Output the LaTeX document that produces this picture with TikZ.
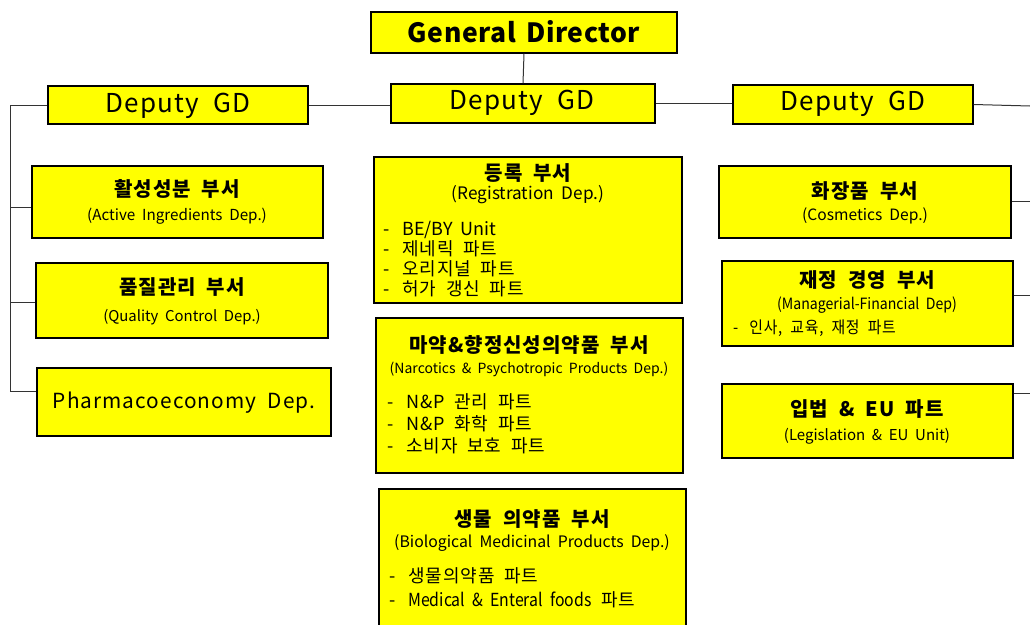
\documentclass[tikz,border=0pt]{standalone}
\usepackage{graphicx}
\usepackage{fontspec}
\setmainfont{Noto Sans CJK KR}[LetterSpace=5, WordSpace=2]
\newfontfamily\subfont{Noto Sans CJK KR}[WordSpace=2.2]
\newfontfamily\latfont{Noto Sans CJK KR}[WordSpace=2]
\newfontfamily\gdfont{Noto Sans CJK KR}[LetterSpace=2, WordSpace=1.6]
\usetikzlibrary{fit}
\definecolor{ybg}{HTML}{FFFF00}
\definecolor{lnc}{HTML}{333333}
\tikzset{
 ybox/.style={draw=black, fill=ybg, line width=1.2pt, inner sep=0pt},
 conn/.style={draw=lnc, line width=1pt},
 gdtxt/.style={font=\gdfont\bfseries\fontsize{26.5}{30}\selectfont, inner sep=0pt},
 deptxt/.style={font=\fontsize{26}{28}\selectfont, inner sep=0pt},
 ttl/.style={font=\bfseries\fontsize{20}{22}\selectfont, inner sep=0pt},
 subt/.style={font=\subfont\fontsize{#1}{17}\selectfont, inner sep=0pt},
 lst/.style={align=left, anchor=west, inner sep=0pt},
}
\newcommand{\itm}[1]{\makebox[19pt][l]{-}#1}
\begin{document}
\begin{tikzpicture}[x=1pt,y=-1pt]
\clip (0,0) rectangle (1030,624);
\fill[white] (0,0) rectangle (1030,624);
% boxes
\node[ybox, fit={(371,12) (677,53)}] (gd) {};
\node[ybox, fit={(391,84) (655,123)}] (dmid) {};
\node[ybox, fit={(48,86) (308,124)}] (dleft) {};
\node[ybox, fit={(733,85) (973,124)}] (dright) {};
\node[ybox, fit={(32,166) (323,238)}] (active) {};
\node[ybox, fit={(36,263) (328,338)}] (quality) {};
\node[ybox, fit={(37,368) (331,436)}] (pharm) {};
\node[ybox, fit={(374,157) (682,303)}] (reg) {};
\node[ybox, fit={(376,318) (683,473)}] (narc) {};
\node[ybox, fit={(379,489) (686,640)}] (bio) {};
\node[ybox, fit={(719,166) (1011,238)}] (cosm) {};
\node[ybox, fit={(722,261) (1013,346)}] (mgmt) {};
\node[ybox, fit={(722,384) (1013,458)}] (legis) {};
% connector points
\coordinate (spinebot) at (10,391);
\coordinate (rdedge) at (1030,106);
\coordinate (rc) at (1030,201);
\coordinate (rm) at (1030,295);
\coordinate (rl) at (1030,393);
% connectors
\draw[conn] (gd.south) -- (dmid.north);
\draw[conn] (dleft.east) -- (dleft.east -| dmid.west);
\draw[conn] (dmid.east) -- (dmid.east -| dright.west);
\draw[conn] (dright.east) -- (rdedge);
\draw[conn] (dleft.west) -| (spinebot);
\draw[conn] ([yshift=-5pt]active.west -| spinebot) -- ([yshift=-5pt]active.west);
\draw[conn] ([yshift=-2pt]quality.west -| spinebot) -- ([yshift=-2pt]quality.west);
\draw[conn] (spinebot) -- (spinebot -| pharm.west);
\draw[conn] (rc -| cosm.east) -- (rc);
\draw[conn] (rm -| mgmt.east) -- (rm);
\draw[conn] (rl -| legis.east) -- (rl);
% texts
\node[gdtxt] (tgd) at (524,32) {General Director};
\node[deptxt] (tdl) at (178,106) {Deputy GD};
\node[deptxt] (tdm) at (522,103) {Deputy GD};
\node[deptxt] (tdr) at (853,104) {Deputy GD};
\node[ttl] (tact) at (177,189) {활성성분 부서};
\node[subt=15.2] (sact) at (177,216) {(Active Ingredients Dep.)};
\node[ttl] (tqua) at (182,287) {품질관리 부서};
\node[subt=14.9] (squa) at (182,317) {(Quality Control Dep.)};
\node[font=\fontsize{20.8}{24}\selectfont, inner sep=0pt] (tph) at (184,403) {Pharmacoeconomy Dep.};
\node[ttl] (treg) at (528,173) {등록 부서};
\node[subt=17.2] (sreg) at (528,195) {(Registration Dep.)};
\node[lst, font=\fontsize{18}{20}\selectfont] (lreg) at (383,259) {\itm{{\latfont BE/BY Unit}}\\\itm{제네릭 파트}\\\itm{오리지널 파트}\\\itm{허가 갱신 파트}};
\node[ttl] (tnar) at (529,345) {마약\&향정신성의약품 부서};
\node[subt=14] (snar) at (529,369) {(Narcotics \& Psychotropic Products Dep.)};
\node[lst, font=\fontsize{18}{22}\selectfont] (lnar) at (387,424) {\itm{N\&P 관리 파트}\\\itm{N\&P 화학 파트}\\\itm{소비자 보호 파트}};
\node[ttl] (tbio) at (532,519) {생물 의약품 부서};
\node[subt=15.8] (sbio) at (532,543) {(Biological Medicinal Products Dep.)};
\node[lst, font=\fontsize{18}{24}\selectfont] (lbio) at (389,588) {\itm{생물의약품 파트}\\\itm{\scalebox{0.88}[1]{\latfont Medical \& Enteral foods} 파트}};
\node[ttl] (tcos) at (865,191) {화장품 부서};
\node[subt=15.6] (scos) at (865,216) {(Cosmetics Dep.)};
\node[ttl] (tmg) at (867,280) {재정 경영 부서};
\node[subt=15.5] (smg) at (867,305) {\scalebox{0.91}[1]{(Managerial-Financial Dep)}};
\node[lst, font=\fontsize{16.5}{18}\selectfont] (lmg) at (733,328) {\scalebox{0.9}[1]{\makebox[18pt][l]{-}인사, 교육, 재정 파트}};
\node[ttl] (tleg) at (867,409) {입법 \& EU 파트};
\node[subt=15] (sleg) at (867,436) {(Legislation \& EU Unit)};
\end{tikzpicture}
\end{document}
